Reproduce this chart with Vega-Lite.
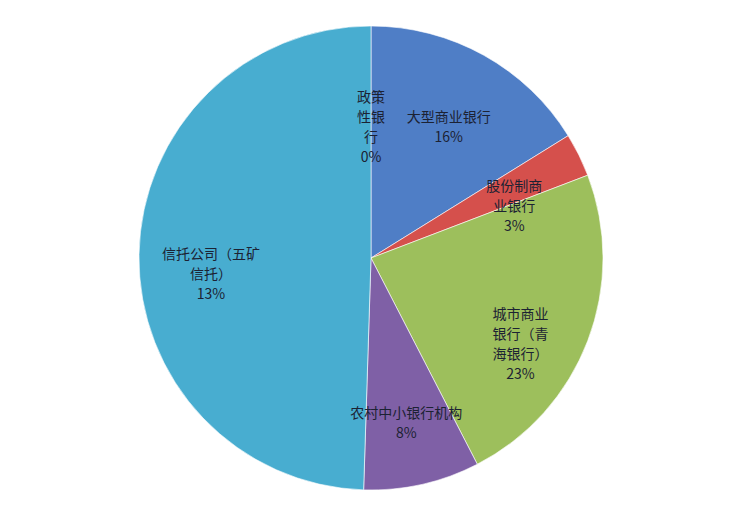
{
  "$schema": "https://vega.github.io/schema/vega-lite/v6.json",
  "width": 742,
  "height": 516,
  "autosize": {"type": "fit", "contains": "padding"},
  "padding": 0,
  "background": "#ffffff",
  "config": {"view": {"stroke": null}},
  "data": {
    "values": [
      {"idx": 1, "sector": "政策性银行", "value": 0.001, "label": "政策\n性银\n行\n0%"},
      {"idx": 2, "sector": "大型商业银行", "value": 16, "label": "大型商业银行\n16%"},
      {"idx": 3, "sector": "股份制商业银行", "value": 3, "label": "股份制商\n业银行\n3%"},
      {"idx": 4, "sector": "城市商业银行（青海银行）", "value": 23, "label": "城市商业\n银行（青\n海银行）\n23%"},
      {"idx": 5, "sector": "农村中小银行机构", "value": 8, "label": "农村中小银行机构\n8%"},
      {"idx": 6, "sector": "信托公司（五矿信托）", "value": 49, "label": "信托公司（五矿\n信托）\n13%"}
    ]
  },
  "encoding": {
    "theta": {"field": "value", "type": "quantitative", "stack": true},
    "order": {"field": "idx", "type": "quantitative"}
  },
  "layer": [
    {
      "mark": {"type": "arc", "outerRadius": 232, "stroke": "#ffffff", "strokeWidth": 0.6},
      "encoding": {
        "color": {
          "field": "sector",
          "type": "nominal",
          "legend": null,
          "scale": {
            "domain": ["政策性银行", "大型商业银行", "股份制商业银行", "城市商业银行（青海银行）", "农村中小银行机构", "信托公司（五矿信托）"],
            "range": ["#3b5f9e", "#4f7ec6", "#d5504c", "#9dbf5c", "#7f60a6", "#48add0"]
          }
        }
      }
    },
    {
      "mark": {"type": "text", "lineBreak": "\n", "font": "Noto Sans CJK SC", "fontSize": 14, "lineHeight": 20, "fill": "#1c2233", "align": "center", "baseline": "middle"},
      "encoding": {
        "radius": {"condition": {"test": "datum.sector === '信托公司（五矿信托）' || datum.sector === '农村中小银行机构'", "value": 184}, "value": 160},
        "text": {"field": "label", "type": "nominal"}
      }
    }
  ]
}
